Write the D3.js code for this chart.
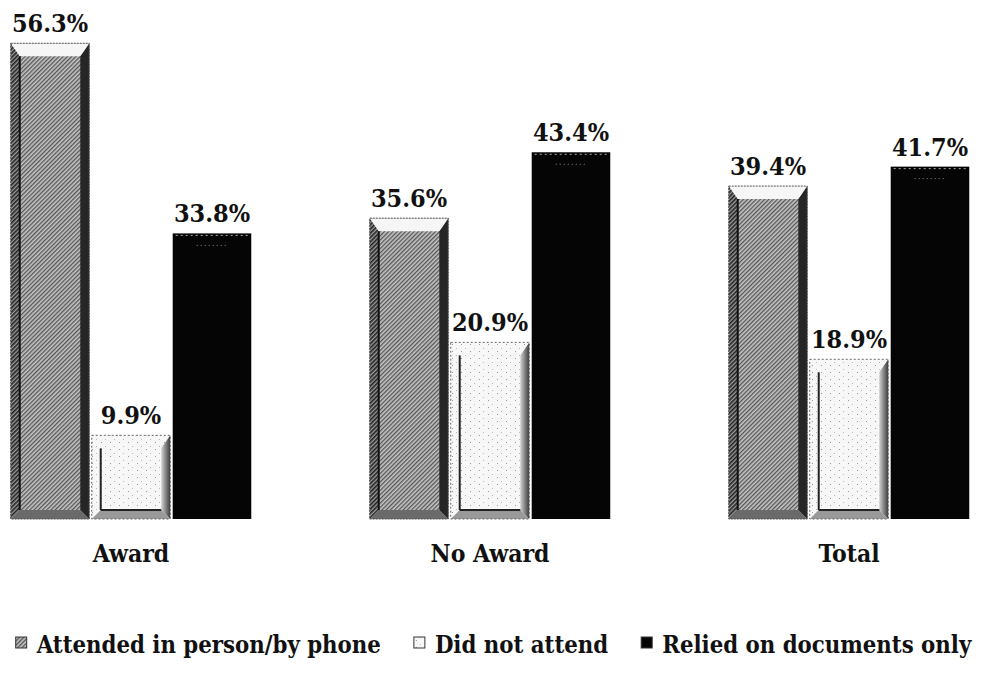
<!DOCTYPE html>
<html>
<head>
<meta charset="utf-8">
<script src="https://cdn.jsdelivr.net/npm/d3@7"></script>
<style>
  body { margin: 0; background: #fff; }
  svg text { font-family: "DejaVu Serif Condensed", "DejaVu Serif", serif; font-stretch: condensed; font-weight: bold; fill: #111; }
</style>
</head>
<body>
<svg id="chart"></svg>
<script>
var width = 987, height = 673;

// data
var categories = ["Award", "No Award", "Total"];
var seriesNames = ["Attended in person/by phone", "Did not attend", "Relied on documents only"];
var attended = [56.3, 35.6, 39.4];
var didNotAttend = [9.9, 20.9, 18.9];
var reliedOnDocs = [33.8, 43.4, 41.7];
var seriesValues = [attended, didNotAttend, reliedOnDocs];

var svg = d3.select("#chart").attr("width", width).attr("height", height);
svg.append("rect").attr("width", width).attr("height", height).attr("fill", "#fff");

var defs = svg.append("defs");

// fine dithered hatch for the grey bars
var hatch = defs.append("pattern").attr("id", "hatchGrey")
    .attr("patternUnits", "userSpaceOnUse").attr("width", 3).attr("height", 3)
    .attr("patternTransform", "rotate(45)");
hatch.append("rect").attr("width", 3).attr("height", 3).attr("fill", "#c4c4c4");
hatch.append("rect").attr("width", 1.3).attr("height", 3).attr("fill", "#555");

var hatchDark = defs.append("pattern").attr("id", "hatchDark")
    .attr("patternUnits", "userSpaceOnUse").attr("width", 3).attr("height", 3)
    .attr("patternTransform", "rotate(45)");
hatchDark.append("rect").attr("width", 3).attr("height", 3).attr("fill", "#9a9a9a");
hatchDark.append("rect").attr("width", 1.6).attr("height", 3).attr("fill", "#222");

var speck = defs.append("pattern").attr("id", "speckle")
    .attr("patternUnits", "userSpaceOnUse").attr("width", 9).attr("height", 7);
speck.append("rect").attr("width", 9).attr("height", 7).attr("fill", "#f7f7f7");
speck.append("rect").attr("x", 2).attr("y", 1).attr("width", 1).attr("height", 1).attr("fill", "#999");
speck.append("rect").attr("x", 6).attr("y", 5).attr("width", 1).attr("height", 1).attr("fill", "#bbb");

var rightGrad = defs.append("linearGradient").attr("id", "rightFace")
    .attr("x1", 0).attr("x2", 1).attr("y1", 0).attr("y2", 0);
rightGrad.append("stop").attr("offset", 0).attr("stop-color", "#d0d0d0");
rightGrad.append("stop").attr("offset", 1).attr("stop-color", "#3a3a3a");

// scales
var x0 = d3.scaleBand().domain(categories).range([-48.5, 1028.5])
    .paddingInner(0.33).paddingOuter(0.165);
var x1 = d3.scaleBand().domain(seriesNames).range([0, x0.bandwidth()]).paddingInner(0.03);
var y = d3.scaleLinear().domain([0, 60]).range([519, 12]);

var rows = [];
categories.forEach(function(c, i) {
    seriesNames.forEach(function(s, j) {
        rows.push({cat: c, series: s, idx: j, value: seriesValues[j][i]});
    });
});

var bevel = 9;
function poly(pts) { return pts.map(function(p) { return p.join(","); }).join(" "); }

svg.append("g").attr("class", "bars").selectAll("g.bar")
    .data(rows).enter().append("g").attr("class", "bar")
    .each(function(d) {
        var g = d3.select(this);
        var bx = x0(d.cat) + x1(d.series), bw = x1.bandwidth();
        var by = y(d.value), bh = y(0) - y(d.value);
        var b = bevel;
        var tl = [bx, by], tr = [bx + bw, by], bl = [bx, by + bh], br = [bx + bw, by + bh];
        var itl = [bx + b, by + b + 4], itr = [bx + bw - b, by + b + 4];
        var ibl = [bx + b, by + bh - b], ibr = [bx + bw - b, by + bh - b];

        if (d.idx === 0) {
            g.append("rect").attr("x", bx).attr("y", by).attr("width", bw).attr("height", bh)
                .attr("fill", "url(#hatchGrey)");
            g.append("polygon").attr("points", poly([tl, itl, ibl, bl])).attr("fill", "url(#hatchDark)");
            g.append("polygon").attr("points", poly([tr, br, ibr, itr])).attr("fill", "#262626");
            g.append("polygon").attr("points", poly([tl, tr, itr, itl])).attr("fill", "#f6f6f6");
            g.append("polygon").attr("points", poly([bl, ibl, ibr, br])).attr("fill", "#6a6a6a");
            g.append("line").attr("x1", itl[0]).attr("y1", itl[1]).attr("x2", ibl[0]).attr("y2", ibl[1])
                .attr("stroke", "#111").attr("stroke-width", 2);
            g.append("rect").attr("x", bx).attr("y", by).attr("width", bw).attr("height", bh)
                .attr("fill", "none").attr("stroke", "#555").attr("stroke-dasharray", "2,1");
        } else if (d.idx === 1) {
            g.append("rect").attr("x", bx).attr("y", by).attr("width", bw).attr("height", bh)
                .attr("fill", "url(#speckle)");
            g.append("polygon").attr("points", poly([tr, br, ibr, itr])).attr("fill", "url(#rightFace)");
            g.append("polygon").attr("points", poly([bl, ibl, ibr, br])).attr("fill", "#999");
            g.append("line").attr("x1", itl[0]).attr("y1", itl[1]).attr("x2", ibl[0]).attr("y2", ibl[1])
                .attr("stroke", "#222").attr("stroke-width", 2);
            g.append("line").attr("x1", ibl[0]).attr("y1", ibl[1]).attr("x2", ibr[0]).attr("y2", ibr[1])
                .attr("stroke", "#222").attr("stroke-width", 2);
            g.append("rect").attr("x", bx).attr("y", by).attr("width", bw).attr("height", bh)
                .attr("fill", "none").attr("stroke", "#666").attr("stroke-dasharray", "2,2");
        } else {
            g.append("rect").attr("x", bx).attr("y", by).attr("width", bw).attr("height", bh)
                .attr("fill", "#050505");
            g.append("line").attr("x1", bx + 3).attr("y1", by + 2).attr("x2", bx + bw - 3).attr("y2", by + 2)
                .attr("stroke", "#aaa").attr("stroke-width", 1).attr("stroke-dasharray", "2,3");
            g.append("line").attr("x1", bx + 24).attr("y1", by + 12).attr("x2", bx + bw - 24).attr("y2", by + 12)
                .attr("stroke", "#888").attr("stroke-width", 1).attr("stroke-dasharray", "1,3");
        }
    });

// value labels
svg.append("g").selectAll("text.val").data(rows).enter().append("text")
    .attr("class", "val")
    .attr("x", function(d) { return x0(d.cat) + x1(d.series) + x1.bandwidth() / 2; })
    .attr("y", function(d) { return y(d.value) - 11; })
    .attr("text-anchor", "middle")
    .style("font-size", "25px")
    .text(function(d) { return d.value.toFixed(1) + "%"; });

// category axis labels (no axis line)
var xAxis = d3.axisBottom(x0).tickSize(0).tickPadding(0);
var axisG = svg.append("g").attr("transform", "translate(0,545)").call(xAxis);
axisG.select(".domain").remove();
axisG.attr("font-family", null).attr("font-size", null);
axisG.selectAll("text").attr("dy", "0.71em").style("font-size", "24.5px").attr("fill", "#111");

// legend
var legend = svg.append("g").attr("class", "legend");
var swatchFill = ["url(#hatchGrey)", "url(#speckle)", "#050505"];
var items = legend.selectAll("g").data(seriesNames).enter().append("g");
items.append("rect").attr("width", 11).attr("height", 11).attr("y", -16)
    .attr("fill", function(d, i) { return swatchFill[i]; })
    .attr("stroke", "#333").attr("stroke-width", 1);
items.append("text").attr("x", 21).attr("y", 0).style("font-size", "23.7px").text(function(d) { return d; });

var gap = 33, xpos = 0, positions = [];
items.each(function() {
    positions.push(xpos);
    xpos += 21 + d3.select(this).select("text").node().getComputedTextLength() + gap;
});
var total = xpos - gap;
var startX = (width - total) / 2;
items.attr("transform", function(d, i) { return "translate(" + (startX + positions[i]) + ",653)"; });
</script>
</body>
</html>
